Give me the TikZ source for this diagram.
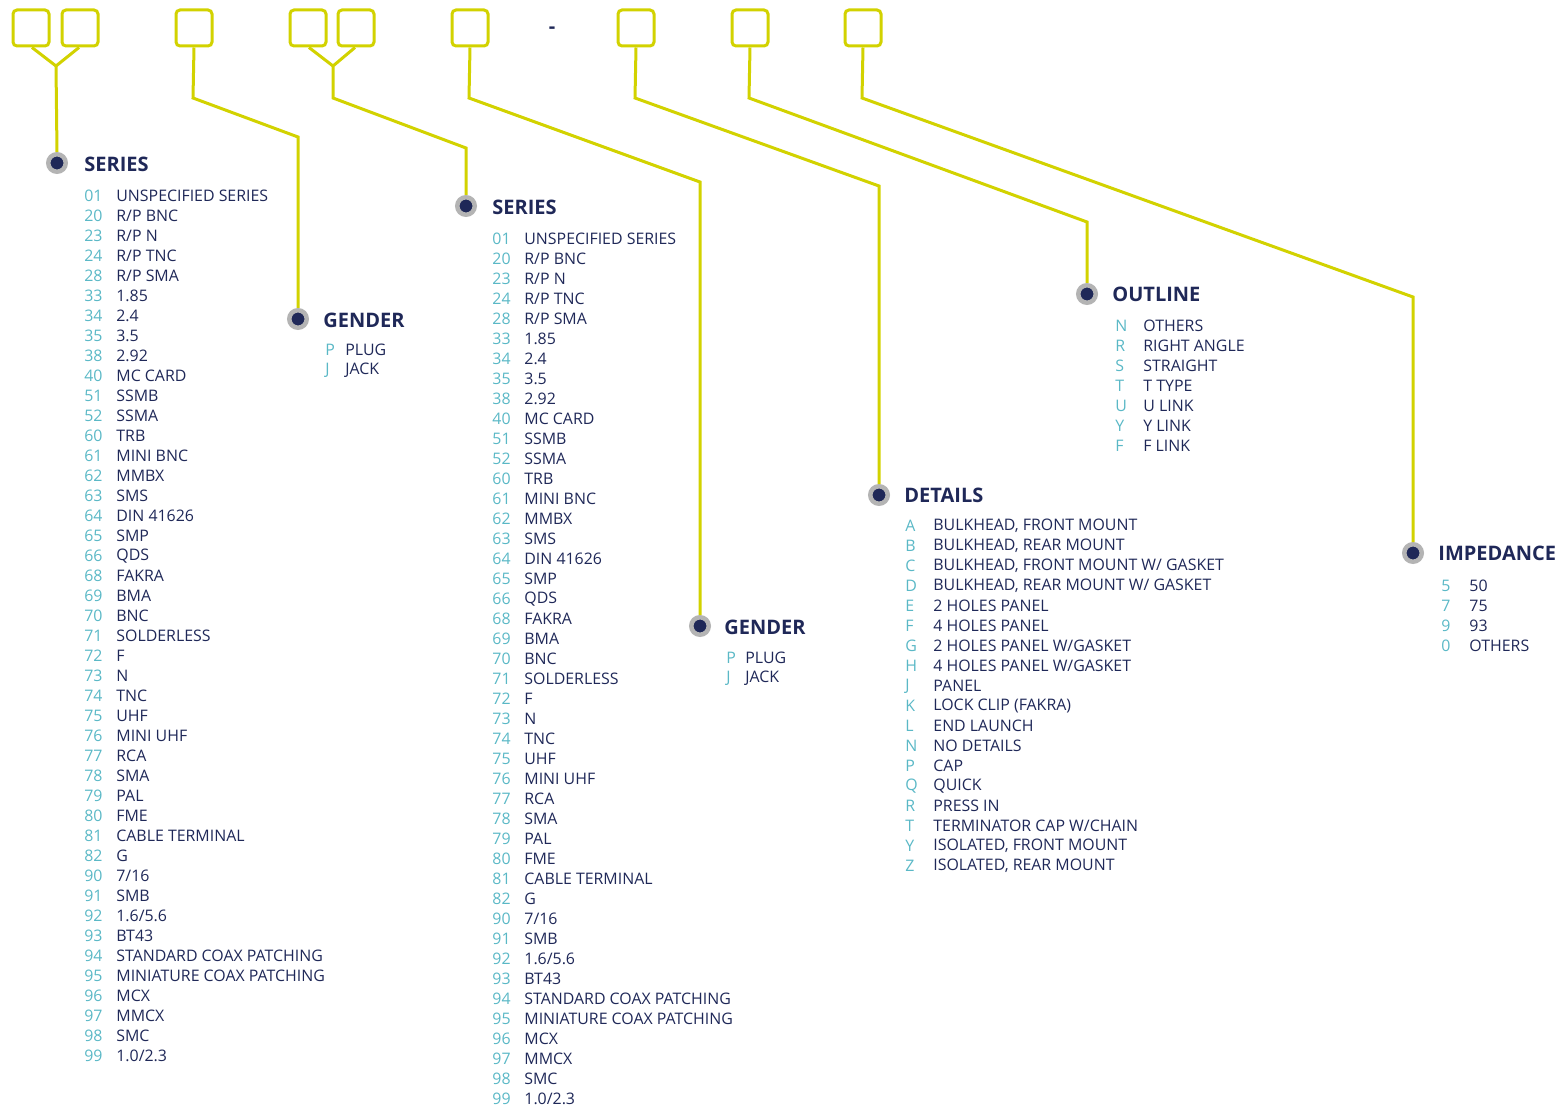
\documentclass[tikz,border=0pt]{standalone}
\usepackage{fontspec}
\setmainfont{Open Sans}
\newlength{\du}
\setlength{\du}{0.5pt}
\definecolor{leadcolor}{RGB}{210,210,0}
\definecolor{navycolor}{RGB}{31,40,88}
\definecolor{codecolor}{RGB}{90,184,198}
\definecolor{ringcolor}{RGB}{180,180,180}
\tikzset{
  codebox/.style={draw=leadcolor, line width=3\du, rounded corners=4\du, minimum size=36\du, inner sep=0pt},
  lead/.style={draw=leadcolor, line width=3\du},
  bullet/.style={circle, draw=ringcolor, line width=4.5\du, fill=navycolor, minimum size=17.5\du, inner sep=0pt},
  heading/.style={anchor=west, inner sep=0pt, text=navycolor, font=\fontsize{10}{12}\selectfont\bfseries},
  code/.style={anchor=west, inner sep=0pt, text=codecolor, font=\fontsize{7.95}{9}\selectfont},
  entry/.style={anchor=west, inner sep=0pt, text=navycolor, font=\fontsize{7.95}{9}\selectfont}
}
\def\serieslist{01/{UNSPECIFIED SERIES}, 20/{R/P BNC}, 23/{R/P N}, 24/{R/P TNC}, 28/{R/P SMA},
  33/{1.85}, 34/{2.4}, 35/{3.5}, 38/{2.92}, 40/{MC CARD}, 51/{SSMB}, 52/{SSMA}, 60/{TRB},
  61/{MINI BNC}, 62/{MMBX}, 63/{SMS}, 64/{DIN 41626}, 65/{SMP}, 66/{QDS}, 68/{FAKRA},
  69/{BMA}, 70/{BNC}, 71/{SOLDERLESS}, 72/{F}, 73/{N}, 74/{TNC}, 75/{UHF}, 76/{MINI UHF},
  77/{RCA}, 78/{SMA}, 79/{PAL}, 80/{FME}, 81/{CABLE TERMINAL}, 82/{G}, 90/{7/16},
  91/{SMB}, 92/{1.6/5.6}, 93/{BT43}, 94/{STANDARD COAX PATCHING},
  95/{MINIATURE COAX PATCHING}, 96/{MCX}, 97/{MMCX}, 98/{SMC}, 99/{1.0/2.3}}
\def\genderlist{P/{PLUG}, J/{JACK}}
\begin{document}
\begin{tikzpicture}
\pgftransformxscale{1.000000}
\pgftransformyscale{-1.000000}
\useasboundingbox (0\du,0\du) rectangle (1558\du,1107\du);
% code boxes
\node[codebox] (b1) at (31\du,28\du){};
\node[codebox] (b2) at (80\du,28\du){};
\node[codebox] (b3) at (194\du,28\du){};
\node[codebox] (b4) at (308\du,28\du){};
\node[codebox] (b5) at (356\du,28\du){};
\node[codebox] (b6) at (470\du,28\du){};
\node[text=navycolor, font=\fontsize{10}{12}\selectfont\bfseries] (dash) at (552\du,30\du){-};
\node[codebox] (b7) at (636\du,28\du){};
\node[codebox] (b8) at (750\du,28\du){};
\node[codebox] (b9) at (863\du,28\du){};
% bullets
\node[bullet] (p1) at (57\du,163\du){};
\node[bullet] (p2) at (298\du,319\du){};
\node[bullet] (p3) at (466\du,206\du){};
\node[bullet] (p4) at (700\du,626\du){};
\node[bullet] (p5) at (879\du,495\du){};
\node[bullet] (p6) at (1087\du,294\du){};
\node[bullet] (p7) at (1413\du,553\du){};
% junctions and bends
\coordinate (j1) at (56\du,66\du);
\coordinate (j2) at (333\du,66\du);
\coordinate (k3) at (193\du,98\du);
\coordinate (m3) at (298\du,137\du);
\coordinate (k4) at (333\du,98\du);
\coordinate (m4) at (466\du,148\du);
\coordinate (k6) at (469\du,98\du);
\coordinate (m6) at (700\du,182\du);
\coordinate (k7) at (635\du,98\du);
\coordinate (m7) at (879\du,186\du);
\coordinate (k8) at (749\du,98\du);
\coordinate (m8) at (1087\du,222\du);
\coordinate (k9) at (862\du,98\du);
\coordinate (m9) at (1413\du,297\du);
% leads
\draw[lead] ([xshift=1\du]b1.south) -- (j1);
\draw[lead] ([xshift=-1\du]b2.south) -- (j1) -- (p1.north);
\draw[lead] (b3.south) -- (k3) -- (m3) -- (p2.north);
\draw[lead] ([xshift=1\du]b4.south) -- (j2);
\draw[lead] ([xshift=-1\du]b5.south) -- (j2) -- (k4) -- (m4) -- (p3.north);
\draw[lead] (b6.south) -- (k6) -- (m6) -- (p4.north);
\draw[lead] (b7.south) -- (k7) -- (m7) -- (p5.north);
\draw[lead] (b8.south) -- (k8) -- (m8) -- (p6.north);
\draw[lead] (b9.south) -- (k9) -- (m9) -- (p7.north);
% headings
\node[heading] (h1) at (84\du,164\du){SERIES};
\node[heading] (h2) at (323\du,320\du){GENDER};
\node[heading] (h3) at (492\du,207\du){SERIES};
\node[heading] (h4) at (724\du,627\du){GENDER};
\node[heading] (h5) at (904\du,495\du){DETAILS};
\node[heading] (h6) at (1112\du,294\du){OUTLINE};
\node[heading] (h7) at (1438\du,553\du){IMPEDANCE};
% lists
\foreach \c/\t [count=\n from 0] in \serieslist {
  \node[code] (sa\n) at ({84\du},{(196+20*\n)*\du}){\c};
  \node[entry] (ta\n) at ({116\du},{(196+20*\n)*\du}){\t};
  \node[code] (sb\n) at ({492\du},{(239+20*\n)*\du}){\c};
  \node[entry] (tb\n) at ({524\du},{(239+20*\n)*\du}){\t};
}
\foreach \c/\t [count=\n from 0] in \genderlist {
  \node[code] (ga\n) at ({325\du},{(350+20*\n)*\du}){\c};
  \node[entry] (ua\n) at ({345\du},{(350+20*\n)*\du}){\t};
  \node[code] (gb\n) at ({726\du},{(658+20*\n)*\du}){\c};
  \node[entry] (ub\n) at ({745\du},{(658+20*\n)*\du}){\t};
}
\foreach \c/\t [count=\n from 0] in {A/{BULKHEAD, FRONT MOUNT}, B/{BULKHEAD, REAR MOUNT},
  C/{BULKHEAD, FRONT MOUNT W/ GASKET}, D/{BULKHEAD, REAR MOUNT W/ GASKET},
  E/{2 HOLES PANEL}, F/{4 HOLES PANEL}, G/{2 HOLES PANEL W/GASKET},
  H/{4 HOLES PANEL W/GASKET}, J/{PANEL}, K/{LOCK CLIP (FAKRA)}, L/{END LAUNCH},
  N/{NO DETAILS}, P/{CAP}, Q/{QUICK}, R/{PRESS IN}, T/{TERMINATOR CAP W/CHAIN},
  Y/{ISOLATED, FRONT MOUNT}, Z/{ISOLATED, REAR MOUNT}} {
  \node[code] (dc\n) at ({905\du},{(526+20*\n)*\du}){\c};
  \node[entry] (dt\n) at ({933\du},{(526+20*\n)*\du}){\t};
}
\foreach \c/\t [count=\n from 0] in {N/{OTHERS}, R/{RIGHT ANGLE}, S/{STRAIGHT},
  T/{T TYPE}, U/{U LINK}, Y/{Y LINK}, F/{F LINK}} {
  \node[code] (oc\n) at ({1115\du},{(326+20*\n)*\du}){\c};
  \node[entry] (ot\n) at ({1143\du},{(326+20*\n)*\du}){\t};
}
\foreach \c/\t [count=\n from 0] in {5/{50}, 7/{75}, 9/{93}, 0/{OTHERS}} {
  \node[code] (ic\n) at ({1441\du},{(586+20*\n)*\du}){\c};
  \node[entry] (it\n) at ({1469\du},{(586+20*\n)*\du}){\t};
}
\end{tikzpicture}
\end{document}
